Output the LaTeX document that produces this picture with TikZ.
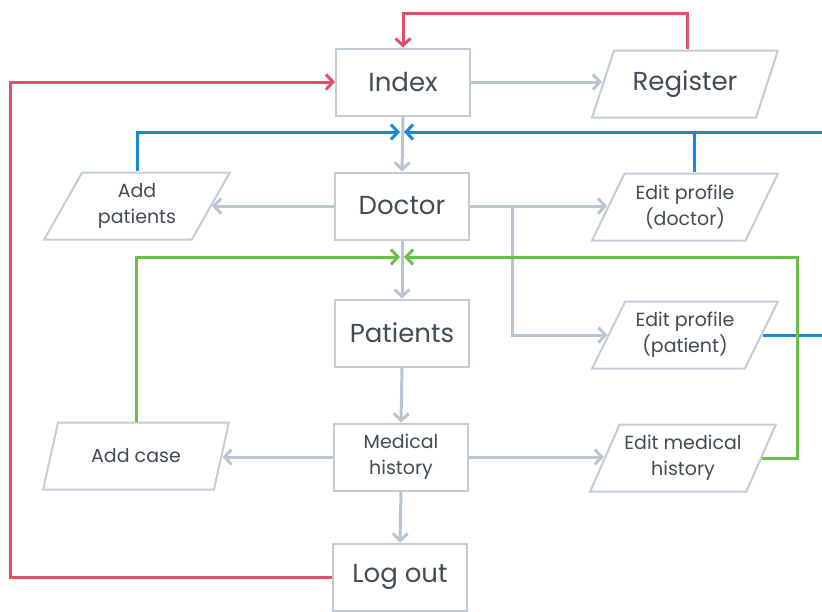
\documentclass[tikz,border=0pt]{standalone}
\usepackage{fontspec}
\setmainfont{Poppins}
\usetikzlibrary{arrows.meta,shapes.geometric}

\definecolor{boxgrey}{HTML}{C4CCD8}
\definecolor{flowgrey}{HTML}{BAC5D4}
\definecolor{textgrey}{HTML}{444A56}
\definecolor{flowred}{HTML}{E0506A}
\definecolor{flowblue}{HTML}{1A88D2}
\definecolor{flowgreen}{HTML}{6CC04A}

\tikzset{
  screen/.style={draw=boxgrey, line width=2pt, fill=white, text=textgrey,
    minimum width=134pt, minimum height=67pt, inner sep=0pt, align=center},
  action/.style={trapezium, trapezium left angle=59, trapezium right angle=121,
    trapezium stretches=true, draw=boxgrey, line width=2pt, fill=white,
    text=textgrey, minimum width=186pt, minimum height=67pt, inner sep=0pt,
    align=center},
  bigtext/.style={font=\fontsize{26}{30}\selectfont},
  smalltext/.style={font=\fontsize{19}{26}\selectfont},
  tip/.style={-{Straight Barb[length=7pt,width=15pt]}},
  flow/.style={draw=flowgrey, line width=3pt, tip},
  back/.style={line width=3pt, tip},
  stub/.style={line width=3pt},
}

\begin{document}
\begin{tikzpicture}[x=1pt, y=-1pt]
  \path[use as bounding box, clip] (0,0) rectangle (822,611);

  % screens
  \node[screen, bigtext] (index)    at (403,82)  {Index};
  \node[screen, bigtext] (doctor)   at (402,206) {Doctor};
  \node[screen, bigtext] (patients) at (402,333) {Patients};
  \node[screen, smalltext] (medical) at (401,457) {Medical\\history};
  \node[screen, bigtext] (logout)   at (400,577) {Log out};

  % actions
  \node[action, bigtext]   (register)  at (685,84)  {Register};
  \node[action, smalltext] (addpat)    at (137,206) {Add\\patients};
  \node[action, smalltext] (editdoc)   at (685,207) {Edit profile\\(doctor)};
  \node[action, smalltext] (editpat)   at (685,335) {Edit profile\\(patient)};
  \node[action, smalltext] (addcase)   at (136,456) {Add case};
  \node[action, smalltext] (editmed)   at (683,458) {Edit medical\\history};

  % junction points for returning flows
  \coordinate (bluejoin)  at (402,132);
  \coordinate (greenjoin) at (402,257);
  \coordinate (redtop)    at (0,13);
  \coordinate (redleft)   at (10,0);
  \coordinate (redright)  at (687,0);
  \coordinate (branch)    at (512,0);
  \coordinate (bluestub)  at (694,0);
  \coordinate (blueright) at (840,0);
  \coordinate (greenright) at (797,0);

  % main grey flow
  \draw[flow] (index.east) -- (index.east -| register.west);
  \draw[flow] (index.south) -- (doctor.north);
  \draw[flow] (doctor.west) -- (doctor.west -| addpat.east);
  \draw[flow] (doctor.east) -- (doctor.east -| editdoc.west);
  \draw[flow] (branch |- doctor.east) |- (editpat.west);
  \draw[flow] (doctor.south) -- (patients.north);
  \draw[flow] (patients.south) -- (medical.north);
  \draw[flow] (medical.west) -- (medical.west -| addcase.east);
  \draw[flow] (medical.east) -- (medical.east -| editmed.west);
  \draw[flow] (medical.south) -- (logout.north);

  % red: back to index
  \draw[back, flowred] (redright |- register.north) -- (redright |- redtop) -| (index.north);
  \draw[back, flowred] (logout.west) -| (redleft |- index.west) -- (index.west);

  % blue: back to doctor
  \draw[back, flowblue, shorten >=2pt] (addpat.north) |- (bluejoin);
  \draw[back, flowblue, shorten >=2pt] (editpat.east) -- (blueright |- editpat.east)
    -- (blueright |- bluejoin) -- (bluejoin);
  \draw[stub, flowblue] (bluestub |- editdoc.north) -- (bluestub |- bluejoin);

  % green: back to patients
  \draw[back, flowgreen, shorten >=2pt] (addcase.north) |- (greenjoin);
  \draw[back, flowgreen, shorten >=2pt] (editmed.east) -- (greenright |- editmed.east)
    -- (greenright |- greenjoin) -- (greenjoin);
\end{tikzpicture}
\end{document}
